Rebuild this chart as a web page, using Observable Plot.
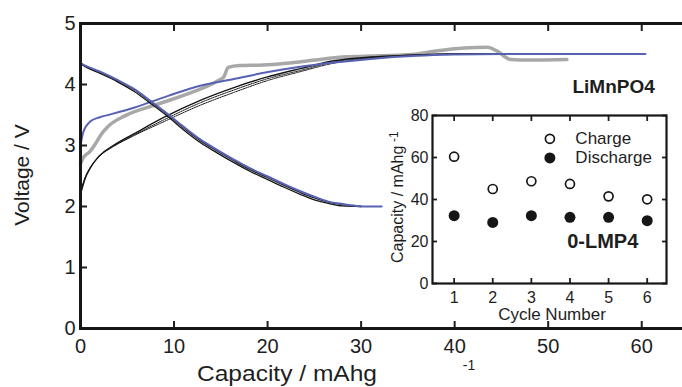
<!DOCTYPE html>
<html><head><meta charset="utf-8">
<script src="https://cdn.jsdelivr.net/npm/d3@7"></script>
<script src="https://cdn.jsdelivr.net/npm/@observablehq/plot@0.6"></script>
<style>
html,body{margin:0;padding:0;background:#fff;overflow:hidden}
#wrap{position:relative;width:682px;height:387px}
#wrap svg{position:absolute;left:0;top:0}
</style></head><body><div id="wrap"></div>
<script>
// ---------- main panel data (Capacity mAh/g vs Voltage V) ----------
const xTicks = [0, 10, 20, 30, 40, 50, 60];
const yTicks = [0, 1, 2, 3, 4, 5];

const chargeCapGray = [0, 0.3, 1.0, 1.6, 2.3, 3.0, 4.8, 8.3, 11.9, 14.7, 15.3, 15.8, 17, 19.5, 22, 25, 28, 32, 36, 38, 41, 43.5, 44.5, 46, 48, 52];
const chargeGrayV   = [2.70, 2.80, 2.90, 3.03, 3.20, 3.32, 3.49, 3.68, 3.87, 4.06, 4.12, 4.28, 4.31, 4.32, 4.35, 4.40, 4.45, 4.47, 4.50, 4.55, 4.60, 4.61, 4.55, 4.41, 4.40, 4.41];

const chargeCapBlack = [0, 0.5, 1, 2, 3.5, 5.7, 8.9, 12.8, 16.4, 19.9, 23.5, 27.1, 31, 35, 40, 44, 48];
const chargeBlackV1  = [2.20, 2.46, 2.62, 2.83, 3.00, 3.19, 3.46, 3.74, 3.95, 4.12, 4.26, 4.39, 4.45, 4.48, 4.50, 4.50, 4.50];
const chargeBlackV2  = [2.22, 2.47, 2.62, 2.82, 2.99, 3.17, 3.42, 3.70, 3.91, 4.09, 4.23, 4.37, 4.44, 4.48, 4.50, 4.50, 4.50];
const chargeBlackV3  = [2.24, 2.48, 2.63, 2.82, 2.98, 3.16, 3.39, 3.66, 3.87, 4.06, 4.21, 4.35, 4.43, 4.47, 4.50, 4.50, 4.50];

const chargeCapBlue = [0, 0.3, 1.1, 2, 3.2, 5.7, 9.3, 12.8, 16.4, 19.9, 23.5, 27.1, 31, 36, 40, 45, 50, 55, 60.4];
const chargeBlueV   = [3.00, 3.22, 3.40, 3.46, 3.51, 3.62, 3.81, 3.98, 4.09, 4.20, 4.29, 4.36, 4.42, 4.47, 4.49, 4.50, 4.50, 4.50, 4.50];

const dischargeCapBlack = [0, 0.5, 2.1, 4, 5.7, 7.5, 9.3, 11, 12.8, 14.6, 16.4, 18.2, 19.9, 21.7, 23.5, 25, 26.5, 28, 30];
const dischargeBlackV1  = [4.35, 4.30, 4.20, 4.06, 3.92, 3.72, 3.51, 3.29, 3.08, 2.91, 2.75, 2.60, 2.48, 2.35, 2.23, 2.14, 2.07, 2.03, 2.00];
const dischargeBlackV2  = [4.34, 4.29, 4.18, 4.04, 3.89, 3.69, 3.48, 3.26, 3.05, 2.88, 2.72, 2.57, 2.45, 2.32, 2.20, 2.11, 2.05, 2.01, 2.00];
const dischargeCapBlue  = [0, 0.5, 2.1, 4, 5.7, 7.5, 9.3, 11, 12.8, 14.6, 16.4, 18.2, 19.9, 21.7, 23.5, 25, 26.5, 28, 29.5, 31, 32.2];
const dischargeBlueV    = [4.35, 4.31, 4.21, 4.07, 3.93, 3.73, 3.52, 3.31, 3.10, 2.93, 2.77, 2.62, 2.50, 2.37, 2.25, 2.16, 2.08, 2.04, 2.01, 2.00, 2.00];

const mainNote = ["LiMnPO4"];

// ---------- inset data ----------
const cycles = [1, 2, 3, 4, 5, 6];
const chargeCapacity    = [60.4, 45.0, 48.7, 47.4, 41.5, 40.1];
const dischargeCapacity = [32.3, 29.1, 32.3, 31.5, 31.5, 29.9];
const insetYTicks = [0, 20, 40, 60, 80];
const legendLabels = ["Charge", "Discharge"];
const insetNote = ["0-LMP4"];

const F = "'Liberation Sans', Arial, Helvetica, sans-serif";
const rows = (caps, vs) => caps.map((c, i) => ({cap: c, v: vs[i]}));
const INK = "#161616";
const TXT = "#1e1e1e";
const BLUE = "#5862b3";

const main = Plot.plot({
  width: 682, height: 387,
  marginLeft: 80, marginRight: -6, marginTop: 23, marginBottom: 59,
  x: {domain: [0, 65]},
  y: {domain: [0, 5]},
  style: {fontFamily: F, color: TXT, background: "white", overflow: "hidden"},
  marks: [
    Plot.line(rows(chargeCapGray, chargeGrayV), {x: "cap", y: "v", stroke: "#a8a8a8", strokeWidth: 3.5, curve: "monotone-x"}),
    Plot.line(rows(chargeCapBlack, chargeBlackV3), {x: "cap", y: "v", stroke: INK, strokeWidth: 1, strokeDasharray: "1.5,1", curve: "monotone-x"}),
    Plot.line(rows(chargeCapBlack, chargeBlackV2), {x: "cap", y: "v", stroke: INK, strokeWidth: 1, strokeDasharray: "1.5,1", curve: "monotone-x"}),
    Plot.line(rows(chargeCapBlack, chargeBlackV1), {x: "cap", y: "v", stroke: INK, strokeWidth: 1.4, curve: "monotone-x"}),
    Plot.line(rows(chargeCapBlue, chargeBlueV), {x: "cap", y: "v", stroke: BLUE, strokeWidth: 2, curve: "monotone-x"}),
    Plot.line(rows(dischargeCapBlack, dischargeBlackV2), {x: "cap", y: "v", stroke: INK, strokeWidth: 1.3, curve: "monotone-x"}),
    Plot.line(rows(dischargeCapBlack, dischargeBlackV1), {x: "cap", y: "v", stroke: INK, strokeWidth: 1.3, curve: "monotone-x"}),
    Plot.line(rows(dischargeCapBlue, dischargeBlueV), {x: "cap", y: "v", stroke: BLUE, strokeWidth: 2, curve: "monotone-x"}),
    Plot.axisX({anchor: "bottom", ticks: xTicks, tickSize: -7, tickPadding: 17, tickFormat: "d", fontSize: 20, label: null, strokeWidth: 2}),
    Plot.axisX({anchor: "top", ticks: xTicks, tickSize: -7, tickFormat: () => "", label: null, strokeWidth: 2}),
    Plot.axisY({anchor: "left", ticks: yTicks, tickSize: -7, tickPadding: 12, tickFormat: "d", fontSize: 20, label: null, strokeWidth: 2}),
    Plot.axisY({anchor: "right", ticks: yTicks, tickSize: -7, tickFormat: () => "", label: null, strokeWidth: 2}),
    Plot.frame({stroke: INK, strokeWidth: 3}),
    Plot.text(mainNote, {x: 61.4, y: 3.96, text: d => d, textAnchor: "end", fontWeight: "bold", fontSize: 19, fill: TXT})
  ]
});

const ms = d3.select(main);
ms.append("text").attr("transform", "translate(29,175) rotate(-90)")
  .attr("text-anchor", "middle").attr("font-size", 21).attr("fill", TXT)
  .attr("font-family", F).text("Voltage / V");
ms.append("text").attr("x", 287).attr("y", 381)
  .attr("font-size", 22).attr("fill", TXT).attr("font-family", F)
  .attr("textLength", 180).attr("lengthAdjust", "spacingAndGlyphs")
  .text("Capacity / mAhg");
ms.append("text").attr("x", 469).attr("y", 370)
  .attr("font-size", 14).attr("fill", TXT).attr("font-family", F).text("-1");

const chargeRows = cycles.map((c, i) => ({cycle: c, cap: chargeCapacity[i]}));
const dischargeRows = cycles.map((c, i) => ({cycle: c, cap: dischargeCapacity[i]}));

const inset = Plot.plot({
  width: 682, height: 387,
  marginLeft: 432, marginRight: 16, marginTop: 115, marginBottom: 104,
  x: {domain: [0.44, 6.5]},
  y: {domain: [0, 80]},
  style: {fontFamily: F, color: TXT, background: "transparent", overflow: "visible"},
  marks: [
    Plot.frame({fill: "white", stroke: null}),
    Plot.dot(chargeRows, {x: "cycle", y: "cap", r: 4.5, stroke: INK, strokeWidth: 1.7, fill: "white"}),
    Plot.dot(dischargeRows, {x: "cycle", y: "cap", r: 5.5, fill: INK, stroke: null}),
    Plot.dot([legendLabels[0]], {x: 3.48, y: 68.9, r: 4.5, stroke: INK, strokeWidth: 1.7, fill: "white"}),
    Plot.dot([legendLabels[1]], {x: 3.48, y: 59.8, r: 5.5, fill: INK, stroke: null}),
    Plot.text([legendLabels[0]], {x: 4.14, y: 68.9, text: d => d, textAnchor: "start", fontSize: 17, fill: TXT}),
    Plot.text([legendLabels[1]], {x: 4.14, y: 59.8, text: d => d, textAnchor: "start", fontSize: 17, fill: TXT}),
    Plot.text(insetNote, {x: 5.77, y: 19.9, text: d => d, textAnchor: "end", fontWeight: "bold", fontSize: 20, fill: TXT}),
    Plot.axisX({anchor: "bottom", ticks: cycles, tickSize: -5, tickPadding: 13, tickFormat: "d", fontSize: 16, label: null, strokeWidth: 1.8}),
    Plot.axisX({anchor: "top", ticks: cycles, tickSize: -5, tickFormat: () => "", label: null, strokeWidth: 1.8}),
    Plot.axisY({anchor: "left", ticks: insetYTicks, tickSize: -5, tickPadding: 9, tickFormat: "d", fontSize: 16, label: null, strokeWidth: 1.8}),
    Plot.axisY({anchor: "right", ticks: insetYTicks, tickSize: -5, tickFormat: () => "", label: null, strokeWidth: 1.8}),
    Plot.frame({stroke: INK, strokeWidth: 2.2})
  ]
});

const is = d3.select(inset);
is.append("text").attr("x", 552).attr("y", 320).attr("text-anchor", "middle")
  .attr("font-size", 17).attr("fill", TXT).attr("font-family", F).text("Cycle Number");
is.append("text").attr("transform", "translate(403,263) rotate(-90)")
  .attr("text-anchor", "start").attr("font-size", 16).attr("fill", TXT)
  .attr("font-family", F).text("Capacity / mAhg");
is.append("text").attr("transform", "translate(398,142) rotate(-90)")
  .attr("text-anchor", "start").attr("font-size", 12).attr("fill", TXT)
  .attr("font-family", F).text("-1");

const wrap = document.getElementById("wrap");
wrap.appendChild(main);
wrap.appendChild(inset);
</script>
</body></html>
